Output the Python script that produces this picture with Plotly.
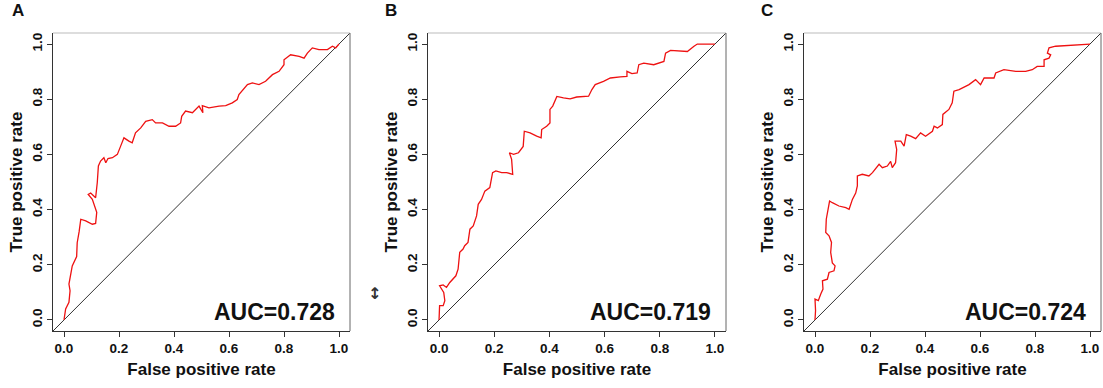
import plotly.graph_objects as go

# ---- data ----
fpr_a = [0.0, 0.006, 0.018, 0.022, 0.018, 0.03, 0.046, 0.048, 0.055, 0.061, 0.079, 0.103, 0.115, 0.119,
         0.103, 0.088, 0.097, 0.115, 0.121, 0.125, 0.133, 0.145, 0.152, 0.160, 0.176, 0.194, 0.206, 0.218,
         0.236, 0.248, 0.26, 0.279, 0.297, 0.321, 0.333, 0.358, 0.382, 0.406, 0.424, 0.428, 0.442, 0.467,
         0.491, 0.505, 0.503, 0.527, 0.564, 0.588, 0.612, 0.63, 0.636, 0.655, 0.667, 0.685, 0.709, 0.733,
         0.758, 0.782, 0.8, 0.8, 0.824, 0.855, 0.873, 0.885, 0.903, 0.927, 0.958, 0.976, 0.988, 1.0]
tpr_a = [0.0, 0.04, 0.064, 0.106, 0.13, 0.196, 0.23, 0.28, 0.32, 0.365, 0.359, 0.347, 0.35, 0.39,
         0.437, 0.455, 0.46, 0.443, 0.498, 0.558, 0.576, 0.588, 0.57, 0.585, 0.588, 0.6, 0.63, 0.66,
         0.648, 0.642, 0.678, 0.696, 0.72, 0.726, 0.714, 0.714, 0.702, 0.702, 0.714, 0.738, 0.757, 0.751,
         0.775, 0.751, 0.777, 0.769, 0.775, 0.777, 0.787, 0.799, 0.817, 0.841, 0.853, 0.859, 0.853, 0.865,
         0.889, 0.901, 0.925, 0.943, 0.961, 0.955, 0.949, 0.967, 0.986, 0.98, 0.98, 0.992, 0.986, 1.0]

fpr_b = [0.0, 0.002, 0.015, 0.021, 0.017, 0.002, 0.015, 0.027, 0.039, 0.051, 0.061, 0.069, 0.075, 0.087,
         0.093, 0.105, 0.112, 0.124, 0.136, 0.142, 0.154, 0.166, 0.184, 0.194, 0.206, 0.227, 0.245, 0.267,
         0.263, 0.255, 0.27, 0.288, 0.305, 0.309, 0.33, 0.354, 0.37, 0.372, 0.39, 0.402, 0.402, 0.412,
         0.427, 0.451, 0.475, 0.499, 0.542, 0.554, 0.566, 0.596, 0.621, 0.657, 0.681, 0.681, 0.699, 0.718,
         0.724, 0.742, 0.778, 0.815, 0.821, 0.839, 0.876, 0.9, 0.924, 0.936, 0.97, 1.0]
tpr_b = [0.0, 0.052, 0.052, 0.07, 0.1, 0.124, 0.127, 0.118, 0.136, 0.148, 0.16, 0.184, 0.245, 0.257,
         0.269, 0.281, 0.329, 0.341, 0.377, 0.419, 0.437, 0.467, 0.48, 0.534, 0.54, 0.534, 0.534, 0.528,
         0.582, 0.606, 0.6, 0.606, 0.629, 0.684, 0.678, 0.666, 0.66, 0.69, 0.702, 0.714, 0.763, 0.775,
         0.81, 0.805, 0.801, 0.808, 0.811, 0.835, 0.853, 0.865, 0.877, 0.881, 0.883, 0.901, 0.893, 0.895,
         0.925, 0.931, 0.925, 0.937, 0.967, 0.977, 0.973, 0.973, 0.992, 1.0, 1.0, 1.0]

fpr_c = [0.0, 0.002, 0.0, 0.012, 0.021, 0.029, 0.027, 0.045, 0.051, 0.069, 0.073, 0.063, 0.057, 0.06,
         0.051, 0.039, 0.041, 0.048, 0.053, 0.063, 0.087, 0.112, 0.124, 0.136, 0.148, 0.154, 0.154, 0.172,
         0.196, 0.209, 0.233, 0.245, 0.263, 0.275, 0.281, 0.293, 0.297, 0.291, 0.312, 0.324, 0.332, 0.348,
         0.366, 0.384, 0.402, 0.427, 0.433, 0.445, 0.463, 0.465, 0.487, 0.499, 0.505, 0.524, 0.536, 0.56,
         0.584, 0.602, 0.615, 0.651, 0.657, 0.687, 0.73, 0.766, 0.79, 0.808, 0.833, 0.833, 0.851, 0.857,
         0.845, 0.851, 0.875, 0.924, 0.972, 1.0]
tpr_c = [0.0, 0.034, 0.076, 0.07, 0.094, 0.112, 0.142, 0.148, 0.172, 0.178, 0.196, 0.207, 0.245, 0.281,
         0.305, 0.317, 0.365, 0.401, 0.431, 0.425, 0.413, 0.407, 0.401, 0.437, 0.46, 0.486, 0.522, 0.528,
         0.522, 0.534, 0.564, 0.552, 0.558, 0.575, 0.552, 0.57, 0.618, 0.648, 0.648, 0.63, 0.672, 0.666,
         0.657, 0.678, 0.666, 0.684, 0.702, 0.696, 0.708, 0.745, 0.763, 0.787, 0.829, 0.835, 0.841, 0.853,
         0.871, 0.853, 0.877, 0.877, 0.895, 0.907, 0.901, 0.901, 0.907, 0.919, 0.919, 0.943, 0.949, 0.961,
         0.967, 0.986, 0.992, 0.995, 1.0, 1.0]

panel_labels = ["A", "B", "C"]
auc_labels = ["AUC=0.728", "AUC=0.719", "AUC=0.724"]
tick_vals = [0.0, 0.2, 0.4, 0.6, 0.8, 1.0]
tick_text = ["0.0", "0.2", "0.4", "0.6", "0.8", "1.0"]
axis_range = [-0.04, 1.04]

curves = [(fpr_a, tpr_a), (fpr_b, tpr_b), (fpr_c, tpr_c)]

# ---- layout ----
W, H = 1103, 388
x_domains = [[53 / W, 350 / W], [428 / W, 726 / W], [804 / W, 1101 / W]]
y_domain = [(H - 331) / H, (H - 33) / H]
letter_x = [18 / W, 391 / W, 767 / W]

FONT = "Liberation Sans, Arial, sans-serif"

fig = go.Figure()
for i, (fx, ty) in enumerate(curves):
    n = "" if i == 0 else str(i + 1)
    fig.add_trace(go.Scatter(x=axis_range, y=axis_range, mode="lines",
                             line=dict(color="#333333", width=1),
                             xaxis="x" + n, yaxis="y" + n, showlegend=False, hoverinfo="skip"))
    fig.add_trace(go.Scatter(x=fx, y=ty, mode="lines",
                             line=dict(color="#ee1111", width=1.3),
                             xaxis="x" + n, yaxis="y" + n, showlegend=False))

    common = dict(range=axis_range, tickvals=tick_vals, ticktext=tick_text,
                  ticks="outside", ticklen=5, tickcolor="#333333",
                  showline=True, linecolor="#333333", linewidth=1,
                  showgrid=False, zeroline=False, fixedrange=True,
                  ticklabeloverflow="allow",
                  tickfont=dict(family=FONT, size=13.5, color="#111111", weight="bold"))
    fig.layout["xaxis" + n] = dict(common, domain=x_domains[i], anchor="y" + n,
                                   title=dict(text="False positive rate", standoff=7,
                                              font=dict(family=FONT, size=17, color="#111111", weight="bold")))
    fig.layout["yaxis" + n] = dict(common, domain=y_domain, anchor="x" + n, tickangle=-90,
                                   title=dict(text="True positive rate", standoff=2,
                                              font=dict(family=FONT, size=17, color="#111111", weight="bold")))
    xr = "x" + n
    yr = "y" + n
    # top and right borders of the box
    fig.add_shape(type="line", xref=xr + " domain", yref=yr + " domain", x0=0, x1=1, y0=1, y1=1,
                  line=dict(color="#bbbbbb", width=1))
    fig.add_shape(type="line", xref=xr + " domain", yref=yr + " domain", x0=1, x1=1, y0=0, y1=1,
                  line=dict(color="#666666", width=1))
    fig.add_annotation(x=0.993, y=0.03, xref=xr, yref=yr, xanchor="right", yanchor="middle",
                       text=auc_labels[i], showarrow=False,
                       font=dict(family=FONT, size=23, color="#111111", weight="bold"))
    fig.add_annotation(x=letter_x[i], y=1 - 10 / H, xref="paper", yref="paper",
                       xanchor="center", yanchor="middle", text=panel_labels[i], showarrow=False,
                       font=dict(family=FONT, size=17, color="#111111", weight="bold"))

fig.add_annotation(x=366 / W, y=1 - 305 / H, xref="paper", yref="paper", text="<b>↕</b>",
                   showarrow=False, font=dict(family="DejaVu Sans", size=16, color="#333333"))

fig.update_layout(width=W, height=H, margin=dict(l=0, r=0, t=0, b=0),
                  paper_bgcolor="white", plot_bgcolor="white")

fig.write_html("out.html", config={"displayModeBar": False},
               post_script="document.body.style.margin='0px';document.body.style.overflow='hidden';")
